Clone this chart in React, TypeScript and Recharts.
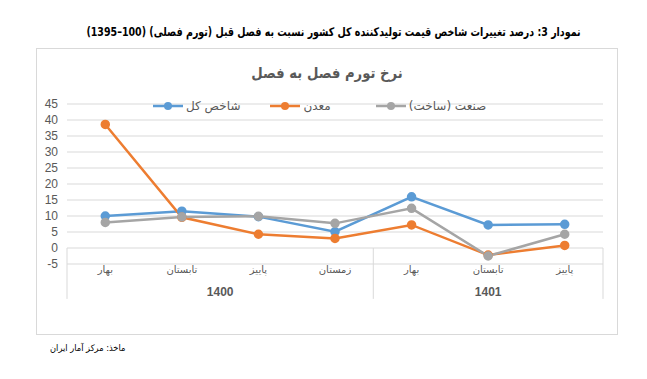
import {
  LineChart,
  Line,
  XAxis,
  YAxis,
  CartesianGrid,
  Legend,
  ReferenceLine
} from "recharts";

const seasons = ["بهار", "تابستان", "پاییز", "زمستان", "بهار", "تابستان", "پاییز"];
const years = ["1400", "1400", "1400", "1400", "1401", "1401", "1401"];

const totalIndex = [10.0, 11.5, 9.8, 5.1, 16.0, 7.2, 7.4];
const mining = [38.6, 9.6, 4.3, 3.0, 7.2, -2.2, 0.8];
const industry = [8.0, 9.7, 9.9, 7.7, 12.4, -2.5, 4.3];

const yTicks = [-5, 0, 5, 10, 15, 20, 25, 30, 35, 40, 45];

const seriesKeys = ["total", "mining", "industry"];
const seriesNames = ["شاخص کل", "معدن", "صنعت (ساخت)"];
const seriesColors = ["#5b9bd5", "#ed7d31", "#a5a5a5"];

// each season sits in the middle of its slot
const positions = seasons.map((_, i) => i + 0.5);

const data = seasons.map((s, i) => ({
  pos: positions[i],
  season: s,
  year: years[i],
  total: totalIndex[i],
  mining: mining[i],
  industry: industry[i]
}));

// group boundaries and centres from the years list
const bounds: number[] = [0];
years.forEach((y, i) => {
  if (i > 0 && y !== years[i - 1]) bounds.push(i);
});
bounds.push(years.length);
const groupCenters = bounds.slice(0, -1).map((b, i) => (b + bounds[i + 1]) / 2);
const groupLabels = bounds.slice(0, -1).map((b) => years[b]);

const persian = "'DejaVu Sans', sans-serif";
const grey = "#595959";

function SeasonTick({ x, y, payload }: any) {
  const idx = positions.indexOf(payload.value);
  return (
    <text
      x={x}
      y={y + 1}
      textAnchor="middle"
      fill={grey}
      fontSize={10}
      fontFamily={persian}
    >
      {seasons[idx]}
    </text>
  );
}

function YearTick({ x, y, payload }: any) {
  const idx = groupCenters.indexOf(payload.value);
  return (
    <text
      x={x}
      y={y + 4}
      textAnchor="middle"
      fill={grey}
      fontSize={12}
      fontWeight="bold"
      fontFamily="'Liberation Sans', sans-serif"
    >
      {groupLabels[idx]}
    </text>
  );
}

function LegendBox({ payload }: any) {
  const items = [...(payload || [])].sort(
    (a: any, b: any) => seriesNames.indexOf(a.value) - seriesNames.indexOf(b.value)
  );
  return (
    <div style={{ display: "flex", paddingLeft: 117 }}>
      {items.map((p: any, i: number) => (
        <div
          key={i}
          style={{
            display: "flex",
            alignItems: "center",
            marginRight: i === 0 ? 30 : 45
          }}
        >
          <svg width={30} height={10}>
            <line x1={0} y1={5} x2={30} y2={5} stroke={p.color} strokeWidth={2.5} />
            <circle cx={15} cy={5} r={4} fill={p.color} />
          </svg>
          <span
            style={{
              fontFamily: persian,
              fontSize: 12,
              color: grey,
              marginLeft: 3,
              direction: "rtl"
            }}
          >
            {p.value}
          </span>
        </div>
      ))}
    </div>
  );
}

export default function App() {
  return (
    <div
      style={{
        position: "absolute",
        left: 0,
        top: 0,
        width: 647,
        height: 379,
        background: "#fff"
      }}
    >
      <div
        style={{
          position: "absolute",
          left: 10,
          top: 25,
          width: 647,
          textAlign: "center",
          direction: "rtl",
          fontFamily: persian,
          fontWeight: "bold",
          fontSize: 12,
          color: "#000",
          whiteSpace: "nowrap",
          transform: "scaleX(0.79)"
        }}
      >
        نمودار 3: درصد تغییرات شاخص قیمت تولیدکننده کل کشور نسبت به فصل قبل (تورم فصلی)  (100–1395)
      </div>

      <div
        style={{
          position: "absolute",
          left: 36,
          top: 48,
          width: 582,
          height: 287,
          border: "1px solid #d9d9d9",
          boxSizing: "border-box"
        }}
      />

      <div
        style={{
          position: "absolute",
          left: 36,
          top: 64,
          width: 582,
          textAlign: "center",
          direction: "rtl",
          fontFamily: persian,
          fontWeight: "bold",
          fontSize: 15,
          color: grey,
          transform: "scaleX(0.88)"
        }}
      >
        نرخ تورم فصل به فصل
      </div>

      <div style={{ position: "absolute", left: 36, top: 48 }}>
        <LineChart
          width={582}
          height={287}
          data={data}
          margin={{ top: 56, right: 15, left: 0, bottom: 0 }}
        >
          <CartesianGrid vertical={false} stroke="#d9d9d9" />
          <XAxis
            dataKey="pos"
            type="number"
            domain={[0, seasons.length]}
            allowDataOverflow
            ticks={positions}
            height={20}
            axisLine={false}
            tickLine={false}
            interval={0}
            tick={<SeasonTick />}
          />
          <XAxis
            xAxisId="year"
            dataKey="pos"
            type="number"
            domain={[0, years.length]}
            allowDataOverflow
            ticks={groupCenters}
            height={51}
            axisLine={false}
            tickLine={false}
            interval={0}
            tick={<YearTick />}
          />
          <YAxis
            domain={[-5, 45]}
            ticks={yTicks}
            interval={0}
            width={31}
            axisLine={false}
            tickLine={false}
            tickMargin={3}
            tick={{ fill: grey, fontSize: 12, fontFamily: "'Liberation Sans', sans-serif" }}
          />
          {bounds.map((b) => (
            <ReferenceLine
              key={b}
              segment={[
                { x: b, y: 0 },
                { x: b, y: -15.9 }
              ]}
              ifOverflow="visible"
              stroke="#d9d9d9"
            />
          ))}
          <Legend
            verticalAlign="middle"
            align="center"
            wrapperStyle={{ top: 51, left: 0, width: 582 }}
            content={<LegendBox />}
          />
          {seriesKeys.map((k, i) => (
            <Line
              key={k}
              dataKey={k}
              name={seriesNames[i]}
              stroke={seriesColors[i]}
              strokeWidth={2.5}
              dot={{ r: 3.5, fill: seriesColors[i], stroke: seriesColors[i] }}
              isAnimationActive={false}
            />
          ))}
        </LineChart>
      </div>

      <div
        style={{
          position: "absolute",
          left: 50,
          top: 343,
          direction: "rtl",
          fontFamily: persian,
          fontSize: 9,
          color: "#000",
          whiteSpace: "nowrap",
          transform: "scaleX(0.92)",
          transformOrigin: "left"
        }}
      >
        ماخذ: مرکز آمار ایران
      </div>
    </div>
  );
}
